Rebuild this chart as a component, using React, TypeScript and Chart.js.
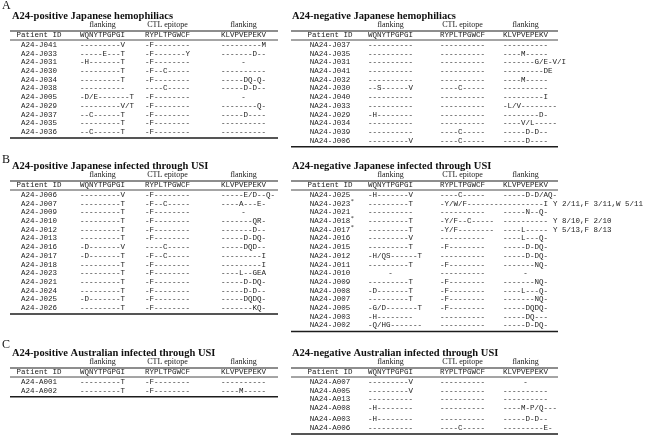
import React, { useEffect, useRef } from "react";
import { Chart, registerables } from "chart.js";

Chart.register(...registerables);

// ---------- text data ----------
const SECTION_LETTERS = ["A", "B", "C"];
const COLUMN_HEADERS = ["Patient ID", "WQNYTPGPGI", "RYPLTPGWCF", "KLVPVEPEKV"];
const GROUP_HEADERS = ["flanking", "CTL epitope", "flanking"];

// A: A24-positive Japanese hemophiliacs
const A_POS_IDS = ["A24-J041", "A24-J033", "A24-J031", "A24-J030", "A24-J034", "A24-J038", "A24-J005", "A24-J029", "A24-J037", "A24-J035", "A24-J036"];
const A_POS_N = ["---------V", "-----E---T", "-H-------T", "---------T", "---------T", "----------", "-D/E-------T", "---------V/T", "--C------T", "---------T", "--C------T"];
const A_POS_CTL = ["-F--------", "-F-------Y", "-F--------", "-F--C-----", "-F--------", "----C-----", "-F--------", "-F--------", "-F--------", "-F--------", "-F--------"];
const A_POS_C = ["---------M", "-------D--", "-", "----------", "-----DQ-Q-", "-----D-D--", "-", "--------Q-", "-----D----", "----------", "----------"];

// A: A24-negative Japanese hemophiliacs
const A_NEG_IDS = ["NA24-J037", "NA24-J035", "NA24-J031", "NA24-J041", "NA24-J032", "NA24-J030", "NA24-J040", "NA24-J033", "NA24-J029", "NA24-J034", "NA24-J039", "NA24-J006"];
const A_NEG_N = ["----------", "----------", "----------", "----------", "----------", "--S------V", "----------", "----------", "-H--------", "----------", "----------", "---------V"];
const A_NEG_CTL = ["----------", "----------", "----------", "----------", "----------", "----C-----", "----------", "----------", "----------", "----------", "----C-----", "----C-----"];
const A_NEG_C = ["----------", "----M-----", "-------G/E-V/I", "---------DE", "----M-----", "----------", "---------I", "-L/V--------", "--------D-", "----V/L-----", "-----D-D--", "-----D----"];

// B: A24-positive Japanese infected through USI
const B_POS_IDS = ["A24-J006", "A24-J007", "A24-J009", "A24-J010", "A24-J012", "A24-J013", "A24-J016", "A24-J017", "A24-J018", "A24-J023", "A24-J021", "A24-J024", "A24-J025", "A24-J026"];
const B_POS_N = ["---------V", "---------T", "---------T", "---------T", "---------T", "---------T", "-D-------V", "-D-------T", "---------T", "---------T", "---------T", "---------T", "-D-------T", "---------T"];
const B_POS_CTL = ["-F--------", "-F--C-----", "-F--------", "-F--------", "-F--------", "-F--------", "----C-----", "-F--C-----", "-F--------", "-F--------", "-F--------", "-F--------", "-F--------", "-F--------"];
const B_POS_C = ["-----E/D--Q-", "----A---E-", "-", "-------QR-", "-------D--", "-----D-DQ-", "-----DQD--", "---------I", "---------I", "----L--GEA", "-----D-DQ-", "-----D-D--", "-----DQDQ-", "-------KQ-"];

// B: A24-negative Japanese infected through USI
const B_NEG_IDS = ["NA24-J025", "NA24-J023*", "NA24-J021", "NA24-J018*", "NA24-J017*", "NA24-J016", "NA24-J015", "NA24-J012", "NA24-J011", "NA24-J010", "NA24-J009", "NA24-J008", "NA24-J007", "NA24-J005", "NA24-J003", "NA24-J002"];
const B_NEG_N = ["-H-------V", "---------T", "----------", "---------T", "---------T", "---------V", "---------T", "-H/QS------T", "---------T", "-", "---------T", "-D-------T", "---------T", "-G/D-------T", "-H--------", "-Q/HG-------"];
const B_NEG_CTL = ["----C-----", "-Y/W/F--------", "----------", "-Y/F--C-----", "-Y/F--------", "----------", "-F--------", "----------", "-F--------", "----------", "-F--------", "-F--------", "-F--------", "-F--------", "----------", "----------"];
const B_NEG_C = ["-----D-D/AQ-", "---------I", "-----N--Q-", "----------", "----L-----", "----L---Q-", "-----D-DQ-", "-----D-DQ-", "-------NQ-", "-", "-------NQ-", "----L---Q-", "-------NQ-", "-----DQDQ-", "-----DQ---", "-----D-DQ-"];
const B_NEG_NOTES = ["", "Y 2/11,F 3/11,W 5/11", "", "Y 8/10,F 2/10", "Y 5/13,F 8/13", "", "", "", "", "", "", "", "", "", "", ""];

// C: A24-positive Australian infected through USI
const C_POS_IDS = ["A24-A001", "A24-A002"];
const C_POS_N = ["---------T", "---------T"];
const C_POS_CTL = ["-F--------", "-F--------"];
const C_POS_C = ["----------", "----M-----"];

// C: A24-negative Australian infected through USI
const C_NEG_IDS = ["NA24-A007", "NA24-A005", "NA24-A013", "NA24-A008", "NA24-A003", "NA24-A006"];
const C_NEG_N = ["---------V", "---------V", "----------", "-H--------", "-H--------", "----------"];
const C_NEG_CTL = ["----------", "----------", "----------", "----------", "----------", "----C-----"];
const C_NEG_C = ["-", "----------", "----------", "----M-P/Q---", "-----D-D--", "---------E-"];

const TITLES = [
  "A24-positive Japanese hemophiliacs",
  "A24-negative Japanese hemophiliacs",
  "A24-positive Japanese infected through USI",
  "A24-negative Japanese infected through USI",
  "A24-positive Australian infected through USI",
  "A24-negative Australian infected through USI",
];

// ---------- layout / style ----------
const MONO = "'Liberation Mono', 'Courier New', monospace";
const SERIF = "'Liberation Serif', 'Times New Roman', serif";
const W = 648;
const H = 435;
const ROW_H = 8.7;
const COL_W = 45;
const SIDES: any = {
  left: { x0: 10, x1: 278, id: 39, cols: [80, 145, 221], title: 12, note: 0 },
  right: { x0: 291, x1: 558, id: 330, cols: [368, 440, 503], title: 292, note: 553 },
};
const SECTION_Y = [
  { letter: 6, title: 16 },
  { letter: 160, title: 166 },
  { letter: 345, title: 353 },
];

type TableSpec = {
  side: "left" | "right";
  section: number;
  title: string;
  ids: string[];
  n: string[];
  ctl: string[];
  c: string[];
  notes?: string[];
  gapAfter?: number;
};

const TABLES: TableSpec[] = [
  { side: "left", section: 0, title: TITLES[0], ids: A_POS_IDS, n: A_POS_N, ctl: A_POS_CTL, c: A_POS_C },
  { side: "right", section: 0, title: TITLES[1], ids: A_NEG_IDS, n: A_NEG_N, ctl: A_NEG_CTL, c: A_NEG_C },
  { side: "left", section: 1, title: TITLES[2], ids: B_POS_IDS, n: B_POS_N, ctl: B_POS_CTL, c: B_POS_C },
  { side: "right", section: 1, title: TITLES[3], ids: B_NEG_IDS, n: B_NEG_N, ctl: B_NEG_CTL, c: B_NEG_C, notes: B_NEG_NOTES },
  { side: "left", section: 2, title: TITLES[4], ids: C_POS_IDS, n: C_POS_N, ctl: C_POS_CTL, c: C_POS_C },
  { side: "right", section: 2, title: TITLES[5], ids: C_NEG_IDS, n: C_NEG_N, ctl: C_NEG_CTL, c: C_NEG_C, gapAfter: 3 },
];

function textDataset(points: any[], font: string, align: string, color: string) {
  return {
    type: "scatter",
    data: points,
    pointRadius: 0,
    pointHoverRadius: 0,
    showLine: false,
    textFont: font,
    textAlign: align,
    textColor: color,
  };
}

function ruleDataset(x0: number, x1: number, y: number, width: number) {
  return {
    type: "scatter",
    data: [
      { x: x0, y },
      { x: x1, y },
    ],
    showLine: true,
    borderColor: "#1c1c1c",
    borderWidth: width,
    pointRadius: 0,
    pointHoverRadius: 0,
    fill: false,
  };
}

function buildDatasets() {
  const ds: any[] = [];
  const monoFont = `7.5px ${MONO}`;
  ds.push(
    textDataset(
      SECTION_LETTERS.map((t, i) => ({ x: 2, y: SECTION_Y[i].letter, text: t })),
      `12px ${SERIF}`,
      "left",
      "#111"
    )
  );
  TABLES.forEach((tb) => {
    const s = SIDES[tb.side];
    const ty = SECTION_Y[tb.section].title;
    ds.push(textDataset([{ x: s.title, y: ty, text: tb.title }], `bold 10.5px ${SERIF}`, "left", "#111"));
    ds.push(
      textDataset(
        GROUP_HEADERS.map((g, i) => ({ x: s.cols[i] + COL_W / 2, y: ty + 9, text: g })),
        `8px ${SERIF}`,
        "center",
        "#222"
      )
    );
    ds.push(ruleDataset(s.x0, s.x1, ty + 15, 1));
    ds.push(textDataset([{ x: s.id, y: ty + 19.5, text: COLUMN_HEADERS[0] }], monoFont, "center", "#222"));
    ds.push(
      textDataset(
        COLUMN_HEADERS.slice(1).map((h, i) => ({ x: s.cols[i], y: ty + 19.5, text: h })),
        monoFont,
        "left",
        "#222"
      )
    );
    ds.push(ruleDataset(s.x0, s.x1, ty + 24, 0.8));
    const rowY = (i: number) => ty + 29 + i * ROW_H + (tb.gapAfter !== undefined && i > tb.gapAfter ? 2.5 : 0);
    ds.push(textDataset(tb.ids.map((t, i) => ({ x: s.id, y: rowY(i), text: t })), monoFont, "center", "#222"));
    [tb.n, tb.ctl, tb.c].forEach((col, ci) => {
      const left = col.map((t, i) => ({ t, i })).filter((o) => o.t !== "-");
      const mid = col.map((t, i) => ({ t, i })).filter((o) => o.t === "-");
      ds.push(textDataset(left.map((o) => ({ x: s.cols[ci], y: rowY(o.i), text: o.t })), monoFont, "left", "#222"));
      ds.push(textDataset(mid.map((o) => ({ x: s.cols[ci] + COL_W / 2, y: rowY(o.i), text: o.t })), monoFont, "center", "#222"));
    });
    if (tb.notes) {
      const pts = tb.notes.map((t, i) => ({ t, i })).filter((o) => o.t).map((o) => ({ x: s.note, y: rowY(o.i), text: o.t }));
      ds.push(textDataset(pts, monoFont, "left", "#222"));
    }
    const lastY = rowY(tb.ids.length - 1);
    ds.push(ruleDataset(s.x0, s.x1, lastY + 6, 1.5));
  });
  return ds;
}

const textPlugin = {
  id: "tableText",
  afterDatasetsDraw(chart: any) {
    const ctx = chart.ctx;
    chart.data.datasets.forEach((ds: any, di: number) => {
      if (!ds.textFont) return;
      const meta = chart.getDatasetMeta(di);
      ds.data.forEach((pt: any, i: number) => {
        const el = meta.data[i];
        if (!el) return;
        ctx.save();
        ctx.font = ds.textFont;
        ctx.fillStyle = ds.textColor;
        ctx.textAlign = ds.textAlign;
        ctx.textBaseline = "middle";
        let text: string = pt.text;
        const star = text.endsWith("*");
        if (star) text = text.slice(0, -1);
        ctx.fillText(text, el.x, el.y);
        if (star) {
          const w = ctx.measureText(text).width;
          const endX = ds.textAlign === "center" ? el.x + w / 2 : el.x + w;
          ctx.font = `6px ${SERIF}`;
          ctx.textAlign = "left";
          ctx.fillText("*", endX + 0.5, el.y - 2.5);
        }
        ctx.restore();
      });
    });
  },
};

export default function App() {
  const ref = useRef<HTMLCanvasElement | null>(null);
  useEffect(() => {
    if (!ref.current) return;
    const chart = new Chart(ref.current, {
      type: "scatter",
      data: { datasets: buildDatasets() as any },
      options: {
        animation: false,
        responsive: false,
        maintainAspectRatio: false,
        events: [],
        layout: { padding: 0 },
        plugins: { legend: { display: false }, tooltip: { enabled: false }, title: { display: false } },
        scales: {
          x: { type: "linear", min: 0, max: W, display: false },
          y: { type: "linear", min: 0, max: H, reverse: true, display: false },
        },
      } as any,
      plugins: [textPlugin],
    });
    return () => chart.destroy();
  }, []);
  return (
    <div style={{ position: "absolute", left: 0, top: 0, width: W, height: H, background: "#fff" }}>
      <canvas ref={ref} width={W} height={H} style={{ display: "block", width: W, height: H }} />
    </div>
  );
}
